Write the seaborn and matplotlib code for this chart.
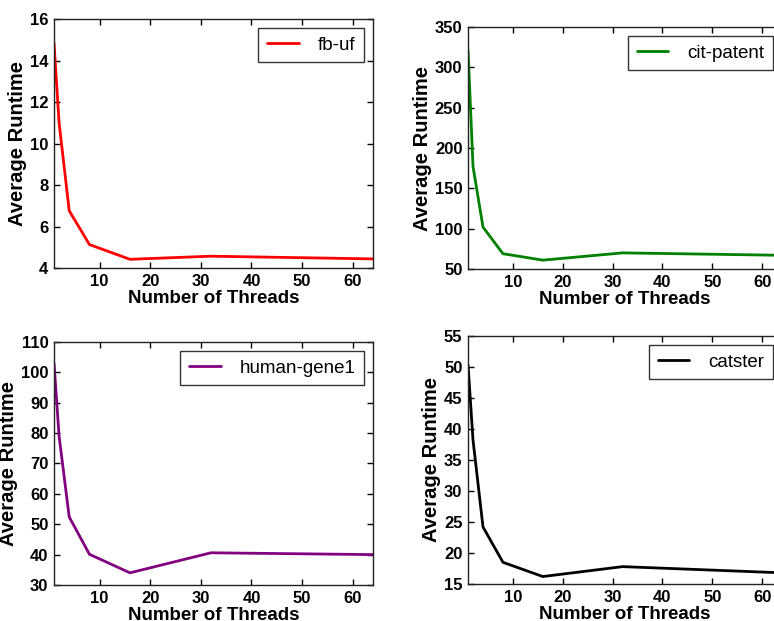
import matplotlib
matplotlib.use("Agg")
import matplotlib.pyplot as plt
import seaborn as sns
import pandas as pd

# Thread counts and average runtime per dataset
threads = [1, 2, 4, 8, 16, 32, 64]
fb_uf = [14.84, 11.0, 6.76, 5.13, 4.42, 4.57, 4.44]
cit_patent = [321, 177, 102, 69, 61, 70, 67]
human_gene1 = [103, 79, 52.4, 40.1, 34.0, 40.6, 40.0]
catster = [50.3, 38.2, 24.2, 18.5, 16.2, 17.8, 16.8]

names = ["fb-uf", "cit-patent", "human-gene1", "catster"]
series = [fb_uf, cit_patent, human_gene1, catster]
colors = ["#ff0000", "#008000", "#800080", "#000000"]
ylims = [(4, 16), (50, 350), (30, 110), (15, 55)]
ysteps = [2, 50, 10, 5]

sns.set_theme(style="ticks")
plt.rcParams["font.family"] = ["Liberation Sans", "DejaVu Sans"]
plt.rcParams["text.color"] = "black"
plt.rcParams["axes.labelcolor"] = "black"
plt.rcParams["xtick.color"] = "black"
plt.rcParams["ytick.color"] = "black"

fig = plt.figure(figsize=(7.74, 6.21), dpi=100)

# panel rectangles in figure fractions (right column runs slightly past the edge)
rects = [
    [0.0698, 0.5684, 0.4121, 0.4010],
    [0.6047, 0.5668, 0.4057, 0.3897],
    [0.0698, 0.0580, 0.4121, 0.3913],
    [0.6047, 0.0596, 0.4057, 0.3994],
]

for name, vals, col, yl, ys, rect in zip(names, series, colors, ylims, ysteps, rects):
    ax = fig.add_axes(rect)
    df = pd.DataFrame({"Number of Threads": threads, "Average Runtime": vals})
    sns.lineplot(data=df, x="Number of Threads", y="Average Runtime", ax=ax,
                 color=col, linewidth=2, label=name)
    ax.set_xlim(1, 64)
    ax.set_ylim(*yl)
    ax.set_xticks([10, 20, 30, 40, 50, 60])
    yt = list(range(yl[0], yl[1] + 1, ys))
    ax.set_yticks(yt)
    ax.tick_params(direction="in", top=True, right=True, length=4, width=1,
                   labelsize=12, pad=4, color="black")
    for lab in ax.get_xticklabels() + ax.get_yticklabels():
        lab.set_fontweight("bold")
    ax.set_xlabel("Number of Threads", fontsize=13.5, fontweight="bold", labelpad=1)
    ax.set_ylabel("Average Runtime", fontsize=14.5, fontweight="bold", labelpad=2)
    for sp in ax.spines.values():
        sp.set_visible(True)
        sp.set_color("#222222")
        sp.set_linewidth(1)
    leg = ax.legend(loc="upper right", fontsize=13.5, frameon=True, fancybox=False,
                    handlelength=1.7, handletextpad=1.0, borderpad=0.45,
                    borderaxespad=0.5)
    leg.get_frame().set_edgecolor("black")
    leg.get_frame().set_linewidth(1)

fig.savefig("out.png", dpi=100)
